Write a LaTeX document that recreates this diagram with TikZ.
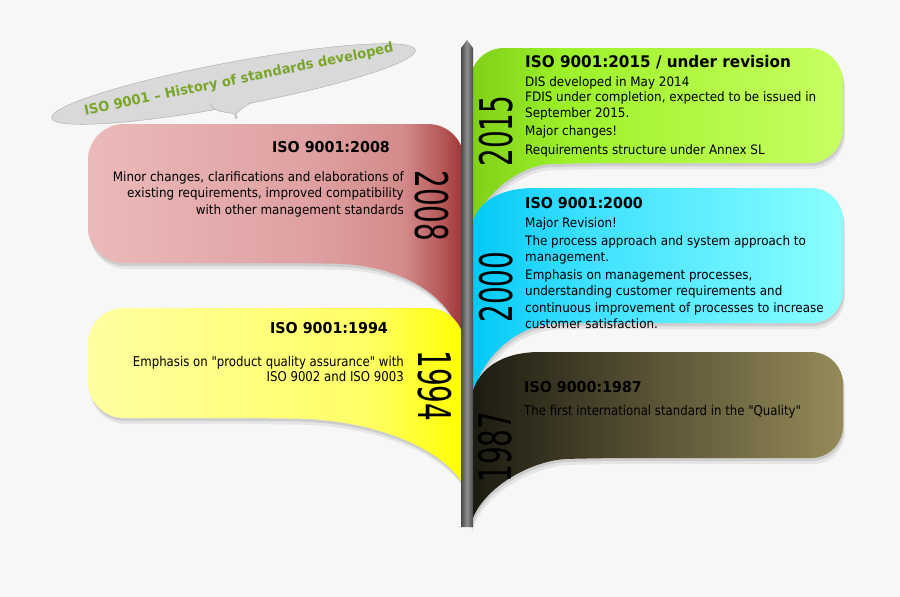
\documentclass[tikz,border=0pt]{standalone}
\usepackage{fontspec}
\setmainfont{DejaVu Sans}[FakeStretch=0.92]
\newfontfamily\narrowfont{DejaVu Sans}[FakeStretch=0.87]
\newfontfamily\titlefont{DejaVu Sans}[FakeStretch=0.95]
\newfontfamily\yearfont{DejaVu Sans}[FakeStretch=0.62]
\usetikzlibrary{positioning}
\definecolor{bgcol}{HTML}{F7F7F7}
\definecolor{bubblefill}{HTML}{D9D9D9}
\definecolor{bubbleline}{HTML}{A8A8A8}
\definecolor{headgreen}{HTML}{7AA52B}
\definecolor{redA}{HTML}{EBBABA}
\definecolor{redB}{HTML}{DFA0A1}
\definecolor{redC}{HTML}{D38A8A}
\definecolor{redD}{HTML}{B65858}
\definecolor{redE}{HTML}{9C3434}
\definecolor{yelA}{HTML}{FFFFA2}
\definecolor{yelB}{HTML}{FFFF66}
\definecolor{yelC}{HTML}{FFFF00}
\definecolor{grnA}{HTML}{7FCF18}
\definecolor{grnB}{HTML}{9DF22A}
\definecolor{grnC}{HTML}{C8FF62}
\definecolor{cyaA}{HTML}{00C8F6}
\definecolor{cyaB}{HTML}{3CE0FF}
\definecolor{cyaC}{HTML}{8CFFFF}
\definecolor{oliA}{HTML}{1B1A10}
\definecolor{oliB}{HTML}{5B5436}
\definecolor{oliC}{HTML}{958B59}
\definecolor{poleA}{HTML}{4A4A4A}
\definecolor{poleB}{HTML}{8E8E8E}
\pgfdeclarehorizontalshading{redfade}{100bp}{color(0bp)=(redA); color(25bp)=(redA); color(55bp)=(redB); color(67bp)=(redC); color(72bp)=(redD); color(75bp)=(redE); color(100bp)=(redE)}
\pgfdeclarehorizontalshading{yelfade}{100bp}{color(0bp)=(yelA); color(25bp)=(yelA); color(62bp)=(yelB); color(75bp)=(yelC); color(100bp)=(yelC)}
\pgfdeclarehorizontalshading{grnfade}{100bp}{color(0bp)=(grnA); color(25bp)=(grnA); color(38bp)=(grnB); color(75bp)=(grnC); color(100bp)=(grnC)}
\pgfdeclarehorizontalshading{cyafade}{100bp}{color(0bp)=(cyaA); color(25bp)=(cyaA); color(40bp)=(cyaB); color(75bp)=(cyaC); color(100bp)=(cyaC)}
\pgfdeclarehorizontalshading{olifade}{100bp}{color(0bp)=(oliA); color(25bp)=(oliA); color(50bp)=(oliB); color(75bp)=(oliC); color(100bp)=(oliC)}
\begin{document}
\begin{tikzpicture}[x=1pt,y=-1pt,
  leaf/.style={preaction={fill=black,opacity=0.07,transform canvas={xshift=2pt,yshift=-6pt}},
               preaction={fill=black,opacity=0.10,transform canvas={xshift=1pt,yshift=-3pt}}},
  year/.style={inner sep=0pt,font=\yearfont\fontsize{45}{45}\selectfont},
  head/.style={inner sep=0pt,font=\titlefont\bfseries\fontsize{15}{18}\selectfont},
  body/.style={inner sep=0pt,font=\fontsize{13}{16.5}\selectfont},
  thin/.style={inner sep=0pt,font=\narrowfont\fontsize{13.5}{15}\selectfont}]
  \fill[bgcol] (0,0) rectangle (900,597);
  \useasboundingbox (0,0) rectangle (900,597);
  \draw[bubbleline,fill=bubblefill,rotate around={10.6:(233.5,84)}] (233.5,84) ellipse [x radius=185,y radius=22];
  \fill[bubblefill] (210,103) .. controls (214,110) and (216,111) .. (230,113) .. controls (236,114) and (239,116) .. (236,119) .. controls (232,115) and (238,111) .. (252,101) -- cycle;
  \draw[bubbleline] (210,104) .. controls (214,110) and (216,111) .. (230,113) .. controls (236,114) and (239,116) .. (236,119) .. controls (232,115) and (238,111) .. (252,102);
  \node[rotate=11.6,text=headgreen,inner sep=0pt,font=\titlefont\bfseries\fontsize{13.8}{16}\selectfont] (bubble) at (239,80) {ISO 9001 – History of standards developed};
  \shade[leaf,shading=redfade,rounded corners=36pt] (464,348) -- (464,124) -- (88,124) -- (88,263) -- (300,263) [sharp corners] .. controls (400,265) and (455,295) .. (464,348) -- cycle;
  \shade[leaf,shading=yelfade,rounded corners=36pt] (464,487) -- (464,308) -- (88,308) -- (88,418) -- (260,418) [sharp corners] .. controls (380,420) and (448,452) .. (464,487) -- cycle;
  \shade[leaf,shading=grnfade,rounded corners=34pt] (470,236) -- (470,48) -- (843,48) -- (843,163) -- (585,163) [sharp corners] .. controls (520,165) and (478,195) .. (470,236) -- cycle;
  \shade[leaf,shading=cyafade] (470,408) -- (470,240) .. controls (470,205) and (495,188) .. (535,188) [rounded corners=32pt] -- (843,188) -- (843,323) -- (590,323) [sharp corners] .. controls (515,324) and (476,360) .. (470,408) -- cycle;
  \shade[leaf,shading=olifade] (470,527) -- (470,410) .. controls (470,375) and (495,352) .. (540,352) [rounded corners=32pt] -- (843,352) -- (843,458) -- (600,458) [sharp corners] .. controls (530,460) and (478,490) .. (470,527) -- cycle;
  \shade[left color=poleA,right color=poleA,middle color=poleB] (461,48) -- (467,40) -- (473,48) -- (473,527) -- (461,527) -- cycle;
  \node[year,rotate=-90] (y2008) at (432,206) {2008};
  \node[year,rotate=-90] (y1994) at (435,386) {1994};
  \node[year,rotate=90] (y2015) at (496,131) {2015};
  \node[year,rotate=90] (y2000) at (496,287) {2000};
  \node[year,rotate=90] (y1987) at (495,447) {1987};
  \node[head] (t2008) at (331,147) {ISO 9001:2008};
  \node[body,align=right,anchor=north east] (b2008) at (404,171) {Minor changes, clarifications and elaborations of\\existing requirements, improved compatibility\\with other management standards};
  \node[head] (t1994) at (329,328) {ISO 9001:1994};
  \node[thin,align=right,anchor=north east] (b1994) at (404,356) {Emphasis on "product quality assurance" with\\ISO 9002 and ISO 9003};
  \node[head,font=\titlefont\bfseries\fontsize{16}{18}\selectfont,anchor=west] (t2015) at (525,62) {ISO 9001:2015 / under revision};
  \node[body,align=left,anchor=north west,font=\fontsize{13}{15.5}\selectfont] (b2015) at (525,76) {DIS developed in May 2014\\FDIS under completion, expected to be issued in\\September 2015.\\[3pt]Major changes!\\[3pt]Requirements structure under Annex SL};
  \node[head,anchor=west] (t2000) at (525,203) {ISO 9001:2000};
  \node[body,align=left,anchor=north west] (b2000) at (525,217) {Major Revision!\\[1.5pt]The process approach and system approach to\\management.\\[1pt]Emphasis on management processes,\\understanding customer requirements and\\continuous improvement of processes to increase\\customer satisfaction.};
  \node[head,anchor=west] (t1987) at (524,387) {ISO 9000:1987};
  \node[thin,anchor=west] (b1987) at (524,412) {The first international standard in the "Quality"};
\end{tikzpicture}
\end{document}
